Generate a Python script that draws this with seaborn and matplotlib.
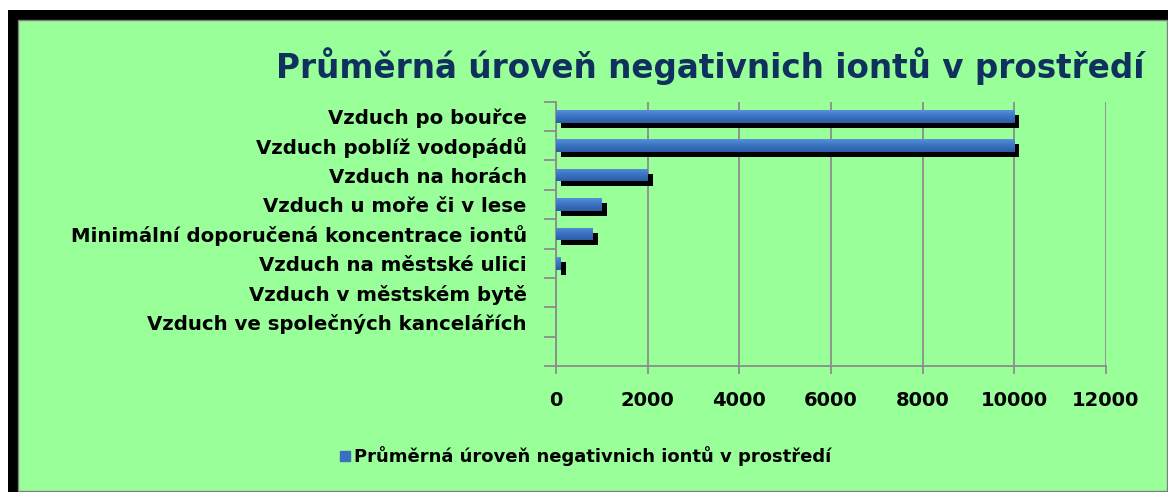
import matplotlib
matplotlib.use("Agg")
import matplotlib.pyplot as plt
import seaborn as sns
import numpy as np
import pandas as pd
from matplotlib.patches import Rectangle
from matplotlib.lines import Line2D
import matplotlib.patheffects as pe
from matplotlib.colors import LinearSegmentedColormap

# ---- data ----
categories = [
    "Vzduch po bouřce",
    "Vzduch poblíž vodopádů",
    "Vzduch na horách",
    "Vzduch u moře či v lese",
    "Minimální doporučená koncentrace iontů",
    "Vzduch na městské ulici",
    "Vzduch v městském bytě",
    "Vzduch ve společných kancelářích",
]
values = [10000, 10000, 2000, 1000, 800, 100, 0, 0]
series_name = "Průměrná úroveň negativnich iontů v prostředí"
chart_title = "Průměrná úroveň negativnich iontů v prostředí"
x_ticks = [0, 2000, 4000, 6000, 8000, 10000, 12000]

sns.set_style("white")
plt.rcParams['font.family'] = ['DejaVu Sans']
plt.rcParams['text.color'] = 'black'

W, H = 1168, 492
fig = plt.figure(figsize=(W / 100, H / 100), dpi=100, facecolor="white")

# frame: black shadow + green panel
fig.patches.append(Rectangle((8 / W, 0), 1160 / W, 482 / H, transform=fig.transFigure,
                             facecolor="black", edgecolor="none", zorder=-10))
fig.patches.append(Rectangle((18 / W, 1 / H), (1167 - 18) / W, (472 - 1) / H,
                             transform=fig.transFigure, facecolor="#99FF99",
                             edgecolor="#808080", lw=1, zorder=-9))

ax = fig.add_axes([556 / W, 1 - 366 / H, (1106 - 556) / W, (366 - 101.7) / H])
ax.set_facecolor("none")

df = pd.DataFrame({"kategorie": categories, "hodnota": values})
bar_color = "#3A70BE"
sns.barplot(data=df, x="hodnota", y="kategorie", orient="h", color=bar_color,
            saturation=1, width=0.43, ax=ax, zorder=3, linewidth=0, edgecolor="none")

cmap = LinearSegmentedColormap.from_list("g", ["#5590D8", "#3A72C2", "#2C5CA4"])
grad = np.linspace(0, 1, 64).reshape(-1, 1)
for p in list(ax.patches):
    w = p.get_width()
    if w <= 0:
        p.set_visible(False)
        continue
    p.set_path_effects([pe.SimplePatchShadow(offset=(3.6, -3.6), shadow_rgbFace="black", alpha=1.0),
                        pe.Normal()])
    x0, y0, h = p.get_x(), p.get_y(), p.get_height()
    im = ax.imshow(grad, cmap=cmap, aspect="auto", origin="upper",
                   extent=(x0, x0 + w, y0 + h, y0), zorder=4)
    im.set_clip_path(p)

ax.set_xlim(0, 12000)
ax.set_ylim(8.5, -0.5)

grid_c = "#8C8C8C"
ax.set_xticks(x_ticks)
ax.set_xticklabels([str(t) for t in x_ticks], fontsize=14, fontweight="bold", color="black")
ax.tick_params(axis="x", length=6, width=1.3, color=grid_c, pad=12, direction="out", bottom=True)
ax.set_yticks(range(len(categories)))
ax.set_yticklabels(categories, fontsize=14.2, fontweight="bold", color="black")
ax.tick_params(axis="y", which="major", length=0, pad=21, left=True)
ax.set_yticks(np.arange(-0.5, 8.6, 1.0), minor=True)
ax.tick_params(axis="y", which="minor", length=9, width=1.3, color=grid_c, left=True)

ax.grid(axis="x", color=grid_c, lw=1.3)
ax.grid(axis="y", visible=False)
ax.set_axisbelow(True)
for s in ["top", "right"]:
    ax.spines[s].set_visible(False)
for s in ["left", "bottom"]:
    ax.spines[s].set_color(grid_c)
    ax.spines[s].set_linewidth(1.3)
ax.set_xlabel("")
ax.set_ylabel("")

fig.text(710 / W, 1 - 66 / H, chart_title, ha="center", va="center", fontsize=23.5,
         fontweight="bold", color="#10305E")

handle = Line2D([], [], marker="s", linestyle="none", markersize=7,
                markerfacecolor=bar_color, markeredgecolor=bar_color)
fig.legend([handle], [series_name], loc="center", bbox_to_anchor=(585 / W, 1 - 456 / H),
           frameon=False, prop={"size": 13, "weight": "bold"}, handletextpad=0.1,
           handlelength=0.8, labelcolor="black")

fig.savefig("out.png", dpi=100, facecolor="white")
